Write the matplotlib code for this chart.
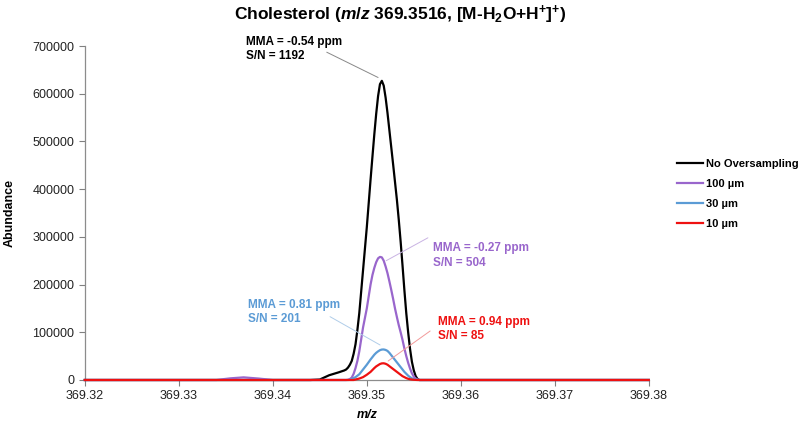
import matplotlib.pyplot as plt
from matplotlib.ticker import FormatStrFormatter

plt.rcParams["font.family"] = ["Liberation Sans", "DejaVu Sans"]
plt.rcParams["mathtext.fontset"] = "custom"
plt.rcParams["mathtext.rm"] = "Liberation Sans:bold"
plt.rcParams["mathtext.it"] = "Liberation Sans:italic:bold"
plt.rcParams["mathtext.bf"] = "Liberation Sans:bold"

# m/z sampling points (shared by all series)
mz = [369.3200, 369.3340, 369.3355, 369.3369, 369.3385, 369.3400, 369.3440,
      369.3450, 369.3460, 369.3470,
      369.3476, 369.3478, 369.3480, 369.3482, 369.3484, 369.3486, 369.3488,
      369.3490, 369.3492, 369.3494, 369.3496, 369.3498, 369.3500, 369.3502,
      369.3504, 369.3506, 369.3508, 369.3510, 369.3512, 369.3514, 369.3516,
      369.3518, 369.3520, 369.3522, 369.3524, 369.3526, 369.3528, 369.3530,
      369.3532, 369.3534, 369.3536, 369.3538, 369.3540, 369.3542, 369.3544,
      369.3546, 369.3548, 369.3550, 369.3552, 369.3554, 369.3556,
      369.3600, 369.3800]

no_oversampling = [0, 0, 0, 0, 0, 0, 0,
                   1000, 10000, 16000,
                   20000, 22000, 26000, 32000, 40000, 55000, 75000,
                   105000, 140000, 185000, 230000, 275000, 320000, 370000,
                   420000, 468000, 515000, 558000, 595000, 620000, 627000,
                   617000, 592000, 560000, 524000, 488000, 452000, 415000,
                   378000, 336000, 290000, 240000, 188000, 140000, 100000,
                   65000, 38000, 20000, 8000, 2000, 0,
                   0, 0]

um100 = [0, 0, 3500, 5500, 3000, 0, 0,
         0, 0, 0,
         0, 0, 500, 2000, 5000, 13000, 25000,
         40000, 60000, 85000, 110000, 130000, 150000, 175000,
         200000, 220000, 235000, 247000, 255000, 258000, 257000,
         250000, 238000, 224000, 207000, 189000, 170000, 150000,
         132000, 115000, 100000, 84000, 66000, 50000, 36000,
         24000, 14000, 7000, 3000, 1000, 0,
         0, 0]

um30 = [0, 0, 0, 0, 0, 0, 0,
        0, 0, 0,
        0, 0, 0, 500, 2000, 4000, 6000,
        9000, 12000, 17000, 22000, 27000, 32000, 37500,
        43000, 48000, 53000, 57000, 60000, 62500, 63800,
        64000, 63000, 61000, 57000, 52000, 47000, 42000,
        37000, 32000, 27000, 22000, 17000, 13000, 9000,
        6000, 3500, 2000, 800, 200, 0,
        0, 0]

um10 = [0, 0, 0, 0, 0, 0, 0,
        0, 0, 0,
        0, 0, 0, 0, 0, 0, 1000,
        2000, 3000, 4500, 6000, 8500, 11000, 14000,
        17000, 21000, 25000, 28500, 31000, 33500, 34800,
        35000, 34000, 32000, 29000, 26000, 23000, 20000,
        17000, 14000, 11000, 8000, 6000, 4000, 2500,
        1500, 900, 500, 200, 0, 0,
        0, 0]

labels = ["No Oversampling", "100 \u00b5m", "30 \u00b5m", "10 \u00b5m"]
colors = ["#000000", "#9966cc", "#5b9bd5", "#ee1111"]

fig = plt.figure(figsize=(8, 4.26), dpi=100)
ax = fig.add_axes([0.106, 0.108, 0.705, 0.784])

for ys, lab, c in zip([no_oversampling, um100, um30, um10], labels, colors):
    ax.plot(mz, ys, color=c, lw=1.6, label=lab, zorder=3, clip_on=False)

ax.set_xlim(369.32, 369.38)
ax.set_ylim(0, 700000)
ax.set_xticks([369.32, 369.33, 369.34, 369.35, 369.36, 369.37, 369.38])
ax.xaxis.set_major_formatter(FormatStrFormatter("%.2f"))
ax.set_yticks(range(0, 700001, 100000))
ax.tick_params(axis="both", labelsize=9, colors="#808080", labelcolor="#222222",
               length=4, width=0.8)
for s in ["top", "right"]:
    ax.spines[s].set_visible(False)
for s in ["left", "bottom"]:
    ax.spines[s].set_color("#8c8c8c")
    ax.spines[s].set_linewidth(0.9)

ax.set_xlabel("m/z", fontsize=9, fontstyle="italic", fontweight="bold", labelpad=5)
ax.set_ylabel("Abundance", fontsize=9, fontweight="bold", labelpad=12)

fig.text(0.5, 0.965,
         "Cholesterol (" + r"$\mathit{m/z}$" + " 369.3516, [M-H" + r"$_{2}$"
         + "O+H" + r"$^{+}$" + "]" + r"$^{+}$" + ")",
         ha="center", va="center", fontsize=12.5, fontweight="bold")

# annotations: text, text anchor, leader line
notes = [
    ("MMA = -0.54 ppm\nS/N = 1192", "#000000", "#888888",
     (369.3371, 694000), (369.34574, 687000), (369.35120, 634000)),
    ("MMA = -0.27 ppm\nS/N = 504", "#9966cc", "#c9b3e3",
     (369.35706, 261000), (369.35650, 298000), (369.35206, 250000)),
    ("MMA = 0.81 ppm\nS/N = 201", "#5b9bd5", "#b0cde9",
     (369.33739, 142500), (369.34609, 132700), (369.35141, 73400)),
    ("MMA = 0.94 ppm\nS/N = 85", "#ee1111", "#f29a9a",
     (369.35759, 106900), (369.35674, 102700), (369.35227, 39800)),
]
for txt, tc, lc, pos, p0, p1 in notes:
    ax.text(pos[0], pos[1], txt, color=tc, fontsize=8.5, fontweight="bold",
            ha="left", va="center", linespacing=1.3)
    ax.annotate("", xy=p1, xytext=p0,
                arrowprops=dict(arrowstyle="-", color=lc, lw=0.7,
                                shrinkA=0, shrinkB=0))

leg = ax.legend(loc="upper left", bbox_to_anchor=(677 / 800, 1 - 159 / 426),
                bbox_transform=fig.transFigure, frameon=False, fontsize=8,
                handlelength=2.3, handletextpad=0.3, labelspacing=0.9,
                borderpad=0, borderaxespad=0)
for t in leg.get_texts():
    t.set_fontweight("bold")

plt.savefig("out.png", dpi=100)
